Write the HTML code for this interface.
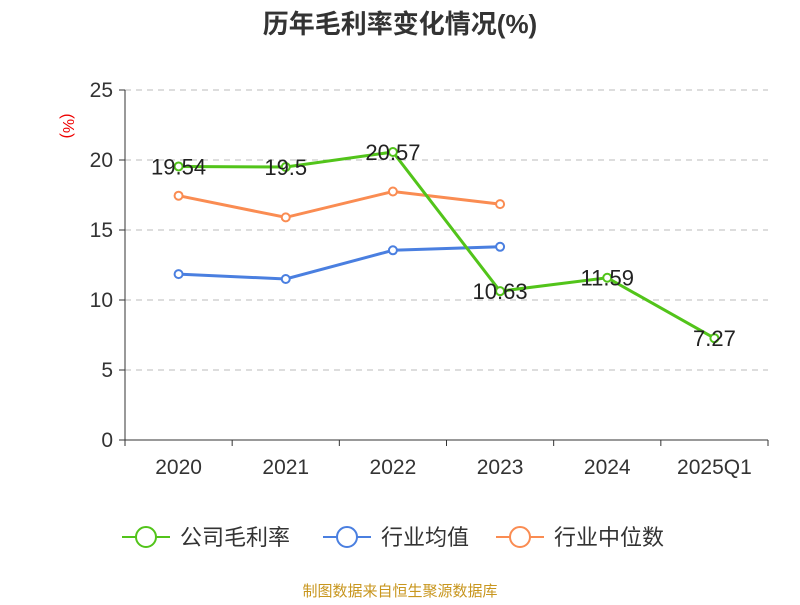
<!DOCTYPE html>
<html><head><meta charset="utf-8"><style>
body{margin:0;background:#fff;}
svg text{font-family:"Liberation Sans","Noto Sans CJK SC",sans-serif;}
</style></head><body>
<svg id="chart" width="800" height="600">
<text x="400" y="33" text-anchor="middle" font-size="26" font-weight="bold" fill="#333">历年毛利率变化情况(%)</text>
<text x="63" y="126" text-anchor="middle" font-size="16" fill="#e00" transform="rotate(90 63 126)">(%)</text>
<g id="grid"></g><g id="axes"></g><g id="series"></g>
<g id="legend"></g>
<text x="400" y="596" text-anchor="middle" font-size="15" fill="#c8961e">制图数据来自恒生聚源数据库</text>
</svg>
<script>
const categories=["2020","2021","2022","2023","2024","2025Q1"];
const yTicks=[0,5,10,15,20,25];
const grossMargin=[19.54,19.5,20.57,10.63,11.59,7.27];
const grossLabels=["19.54","19.5","20.57","10.63","11.59","7.27"];
const industryAvg=[11.85,11.5,13.55,13.8];
const industryMedian=[17.45,15.9,17.75,16.85];
const NS="http://www.w3.org/2000/svg";
const x0=125,x1=768,yBase=440,yTop=90,yMax=25;
const bw=(x1-x0)/categories.length;
const X=i=>x0+bw*(i+0.5);
const Y=v=>yBase-(v/yMax)*(yBase-yTop);
function mk(tag,attrs,parent){const e=document.createElementNS(NS,tag);for(const k in attrs)e.setAttribute(k,attrs[k]);parent.appendChild(e);return e;}
const grid=document.getElementById('grid'),axes=document.getElementById('axes'),ser=document.getElementById('series'),leg=document.getElementById('legend');
yTicks.forEach(t=>{
 if(t>0){const l=mk('line',{x1:x0,x2:x1,y1:Y(t),y2:Y(t),stroke:'#bbb','stroke-dasharray':'6,5'},grid);
 
 }
 const tk=mk('line',{x1:x0-6,x2:x0,y1:Y(t),y2:Y(t),stroke:'#333'},axes);
 
 
 const tx=mk('text',{x:x0-12,y:Y(t)+7,'text-anchor':'end','font-size':21,fill:'#333'},axes);tx.textContent=t;
 
 
});
const ya=mk('line',{x1:x0,x2:x0,y1:yTop,y2:yBase,stroke:'#333'},axes);


const xa=mk('line',{x1:x0,x2:x1,y1:yBase,y2:yBase,stroke:'#333'},axes);


for(let i=0;i<=categories.length;i++){const tk=mk('line',{x1:x0+bw*i,x2:x0+bw*i,y1:yBase,y2:yBase+6,stroke:'#333'},axes);
 
 }
categories.forEach((c,i)=>{const t=mk('text',{x:X(i),y:474,'text-anchor':'middle','font-size':21,fill:'#333'},axes);t.textContent=c;
 
 });
function series(vals,color,name,labels){
 const g=mk('g',{},ser);
 
 
 const p=mk('polyline',{points:vals.map((v,i)=>X(i)+','+Y(v)).join(' '),fill:'none',stroke:color,'stroke-width':3},g);
 
 
 vals.forEach((v,i)=>{const c=mk('circle',{cx:X(i),cy:Y(v),r:4,fill:'#fff',stroke:color,'stroke-width':2},g);
  
  
  if(labels){const t=mk('text',{x:X(i),y:Y(v)+8,'text-anchor':'middle','font-size':22,fill:'#222'},g);t.textContent=labels[i];
   
   }});
}
series(industryMedian,'#fa8c52','industry-median-series');
series(industryAvg,'#4a7fe0','industry-average-series');
series(grossMargin,'#52c41a','gross-margin-series',grossLabels);
const legItems=[["公司毛利率","#52c41a",122],["行业均值","#4a7fe0",323],["行业中位数","#fa8c52",496]];
legItems.forEach(([n,c,x])=>{const g=mk('g',{},leg);
 
 
 mk('line',{x1:x,x2:x+48,y1:537,y2:537,stroke:c,'stroke-width':2},g);
 mk('circle',{cx:x+24,cy:537,r:10,fill:'#fff',stroke:c,'stroke-width':2},g);
 const t=mk('text',{x:x+58,y:545,'font-size':22,fill:'#333'},g);t.textContent=n;});
</script>
</body></html>
